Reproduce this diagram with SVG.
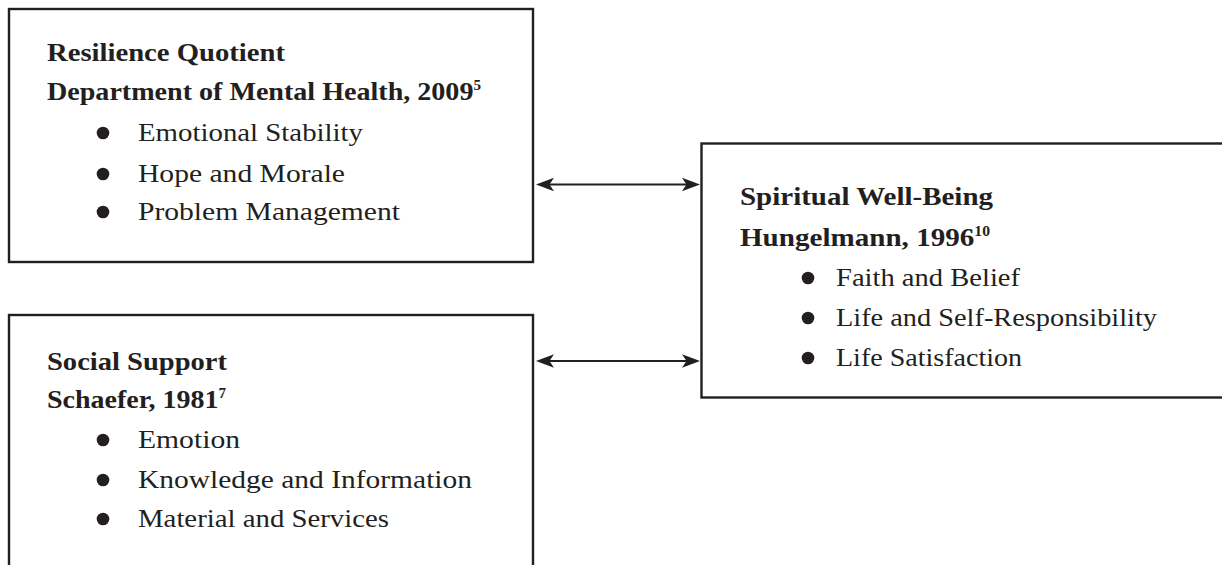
<svg xmlns="http://www.w3.org/2000/svg" width="1222" height="565" viewBox="0 0 1222 565">
<style>
.box{fill:none;stroke:#231f20;stroke-width:2.4}
.h{font-family:"Liberation Serif",serif;font-weight:bold;font-size:26px;fill:#231f20}
.t{font-family:"Liberation Serif",serif;font-size:26px;fill:#231f20}
.sup{font-size:14px}
.dot{fill:#231f20}
.con{stroke:#231f20;stroke-width:2.2;fill:none}
.ah{fill:#231f20}
</style>
<rect width="1222" height="565" fill="#ffffff"/>
<g id="resilience">
<rect class="box" x="9" y="9" width="524" height="253"/>
<text class="h" x="47" y="61" textLength="238" lengthAdjust="spacingAndGlyphs">Resilience Quotient</text>
<text class="h" x="47" y="100" textLength="434" lengthAdjust="spacingAndGlyphs">Department of Mental Health, 2009<tspan class="sup" dy="-10">5</tspan></text>
<circle class="dot" cx="103" cy="133" r="6.3"/>
<text class="t" x="138" y="141" textLength="225" lengthAdjust="spacingAndGlyphs">Emotional Stability</text>
<circle class="dot" cx="103" cy="174" r="6.3"/>
<text class="t" x="138" y="182" textLength="207" lengthAdjust="spacingAndGlyphs">Hope and Morale</text>
<circle class="dot" cx="103" cy="212" r="6.3"/>
<text class="t" x="138" y="220" textLength="262" lengthAdjust="spacingAndGlyphs">Problem Management</text>
</g>
<g id="social">
<rect class="box" x="9" y="315" width="524" height="300"/>
<text class="h" x="47" y="370" textLength="180" lengthAdjust="spacingAndGlyphs">Social Support</text>
<text class="h" x="47" y="408" textLength="179" lengthAdjust="spacingAndGlyphs">Schaefer, 1981<tspan class="sup" dy="-10">7</tspan></text>
<circle class="dot" cx="103" cy="440" r="6.3"/>
<text class="t" x="138" y="448" textLength="102" lengthAdjust="spacingAndGlyphs">Emotion</text>
<circle class="dot" cx="103" cy="480" r="6.3"/>
<text class="t" x="138" y="488" textLength="334" lengthAdjust="spacingAndGlyphs">Knowledge and Information</text>
<circle class="dot" cx="103" cy="519" r="6.3"/>
<text class="t" x="138" y="527" textLength="251" lengthAdjust="spacingAndGlyphs">Material and Services</text>
</g>
<g id="spiritual">
<rect class="box" x="701.5" y="143.5" width="600" height="254"/>
<text class="h" x="740" y="205" textLength="253" lengthAdjust="spacingAndGlyphs">Spiritual Well-Being</text>
<text class="h" x="740" y="246" textLength="250" lengthAdjust="spacingAndGlyphs">Hungelmann, 1996<tspan class="sup" dy="-10">10</tspan></text>
<circle class="dot" cx="808" cy="278" r="6.3"/>
<text class="t" x="836" y="286" textLength="184" lengthAdjust="spacingAndGlyphs">Faith and Belief</text>
<circle class="dot" cx="808" cy="318" r="6.3"/>
<text class="t" x="836" y="326" textLength="321" lengthAdjust="spacingAndGlyphs">Life and Self-Responsibility</text>
<circle class="dot" cx="808" cy="358" r="6.3"/>
<text class="t" x="836" y="366" textLength="186" lengthAdjust="spacingAndGlyphs">Life Satisfaction</text>
</g>
<g id="connectors">
<line class="con" x1="548" y1="184.5" x2="688" y2="184.5"/>
<polygon class="ah" points="536,184.5 554,177.8 549.5,184.5 554,191.2"/>
<polygon class="ah" points="700,184.5 682,177.8 686.5,184.5 682,191.2"/>
<line class="con" x1="548" y1="361" x2="688" y2="361"/>
<polygon class="ah" points="536,361 554,354.3 549.5,361 554,367.7"/>
<polygon class="ah" points="700,361 682,354.3 686.5,361 682,367.7"/>
</g>
</svg>
